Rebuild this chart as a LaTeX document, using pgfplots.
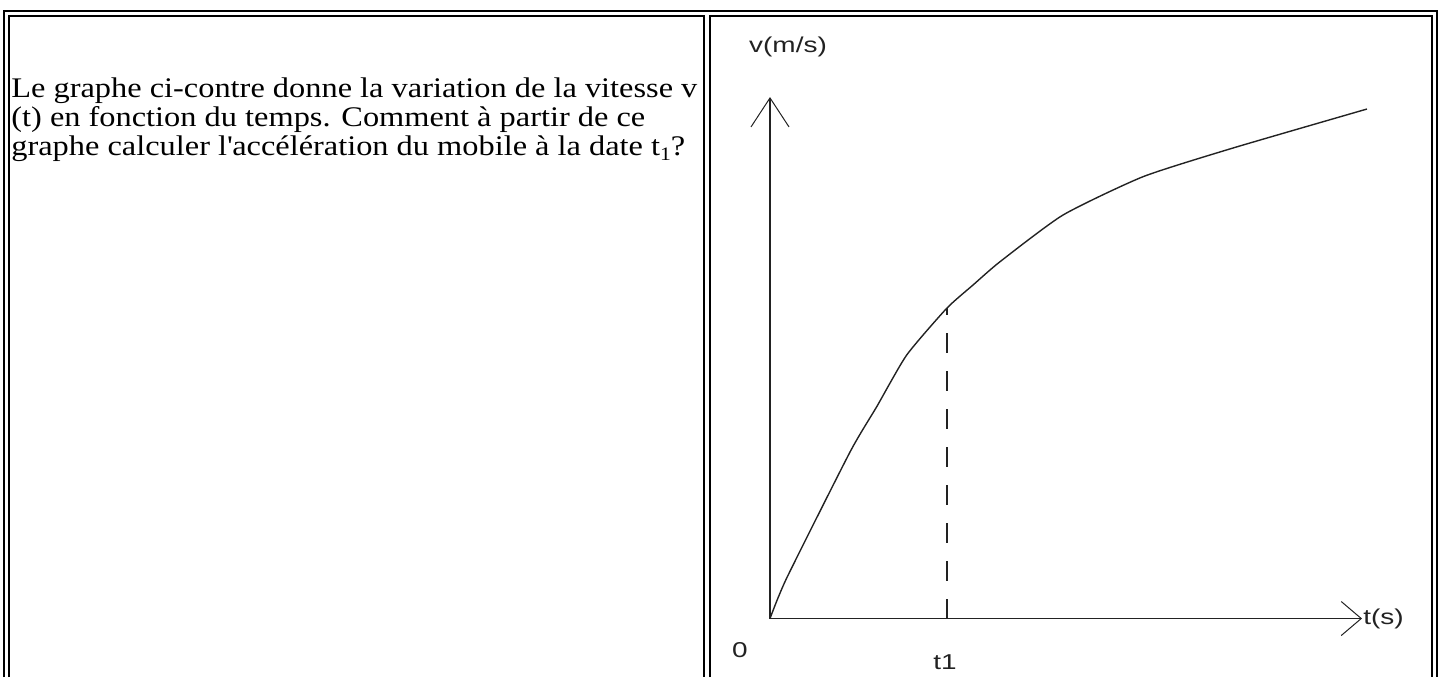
\documentclass[border=0pt]{standalone}
\usepackage{fontspec}
\setmainfont{Liberation Serif}[FakeStretch=1.14]
\newfontfamily\gfont{Liberation Sans}[FakeStretch=1.3]
\usepackage{pgfplots}
\pgfplotsset{compat=1.18}
\usetikzlibrary{arrows.meta}
\definecolor{ink}{HTML}{222222}
\begin{document}
\begin{tikzpicture}
\path[use as bounding box] (0pt,0pt) rectangle (722pt,-338.5pt);
% table borders
\begin{scope}[line width=1pt, black]
\draw (1.75pt,-338.5pt) -- (1.75pt,-5.5pt) -- (718.5pt,-5.5pt) -- (718.5pt,-338.5pt);
\draw (4.65pt,-338.5pt) -- (4.65pt,-8pt) -- (352.15pt,-8pt) -- (352.15pt,-338.5pt);
\draw (354.85pt,-338.5pt) -- (354.85pt,-8pt) -- (715.85pt,-8pt) -- (715.85pt,-338.5pt);
\end{scope}
% left cell text
\begin{scope}[every node/.style={anchor=base west, inner sep=0pt, font=\fontsize{14.2pt}{16pt}\selectfont}]
\node at (5.5pt,-48.8pt) {Le graphe ci-contre donne la variation de la vitesse v};
\node at (5.5pt,-63.3pt) {(t) en fonction du temps. Comment à partir de ce};
\node at (5.5pt,-77.8pt) {graphe calculer l\textquotesingle accélération du mobile à la date t\raisebox{-2.5pt}{\fontsize{9.5pt}{10pt}\selectfont 1}?};
\end{scope}
% graph
\begin{axis}[
  at={(385pt,-309.25pt)}, anchor=south west,
  scale only axis, width=296pt, height=260.75pt,
  xmin=0, xmax=59.2, ymin=0, ymax=52.15,
  axis x line*=bottom, axis y line*=left,
  axis line style={line width=0.8pt, color=ink},
  x axis line style={-{Straight Barb[length=10pt,width=17pt,line width=0.5pt]}},
  y axis line style={-{Straight Barb[length=14.5pt,width=19pt,line width=0.5pt]}},
  xtick=\empty, ytick=\empty,
  clip=false,
]
\addplot[ink, line width=0.7pt, smooth, tension=0.35] coordinates {
  (0,0) (1.67,4.05) (8.0,16.65) (10.67,21.18) (13.67,26.35) (17.67,31.02)
  (20.3,33.35) (23.0,35.68) (29.3,40.35) (37.3,44.18) (46.3,47.05) (59.7,50.95)
};
\addplot[ink, line width=0.8pt, dash pattern=on 10pt off 9pt] coordinates {(17.67,0) (17.67,31.02)};
\node[font=\gfont\fontsize{10.75pt}{12pt}\selectfont, text=ink] at (axis cs:-3.0,-3.15) {0};
\node[font=\gfont\fontsize{10.75pt}{12pt}\selectfont, text=ink] at (axis cs:17.5,-4.35) {t1};
\node[font=\gfont\fontsize{10.75pt}{12pt}\selectfont, text=ink, anchor=west, inner sep=0.5pt] at (axis cs:59.2,0) {t(s)};
\node[font=\gfont\fontsize{10.75pt}{12pt}\selectfont, text=ink] at (axis cs:1.8,57.15) {v(m/s)};
\end{axis}
\end{tikzpicture}
\end{document}
